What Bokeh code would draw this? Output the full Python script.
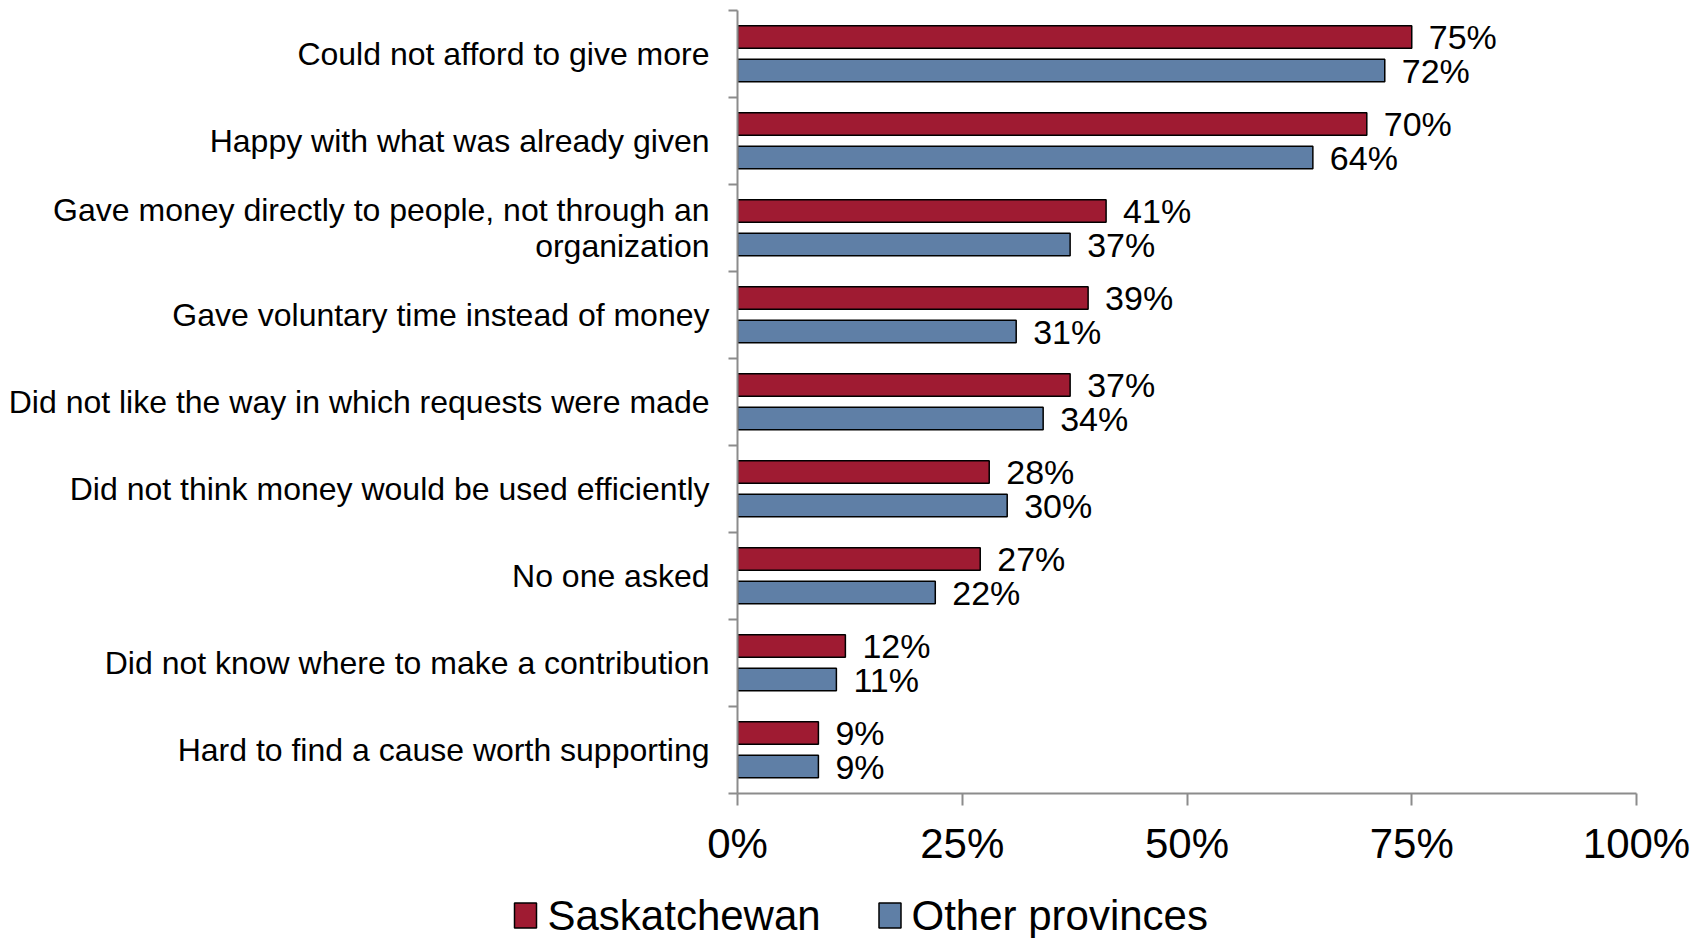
from bokeh.plotting import figure
from bokeh.layouts import column
from bokeh.models import (ColumnDataSource, Range1d, FixedTicker, NumeralTickFormatter)
from bokeh.core.properties import value
from bokeh.embed import file_html
from bokeh.resources import INLINE

categories = [
    "Could not afford to give more",
    "Happy with what was already given",
    "Gave money directly to people, not through an\norganization",
    "Gave voluntary time instead of money",
    "Did not like the way in which requests were made",
    "Did not think money would be used efficiently",
    "No one asked",
    "Did not know where to make a contribution",
    "Hard to find a cause worth supporting",
]
saskatchewan = [75, 70, 41, 39, 37, 28, 27, 12, 9]
other_provinces = [72, 64, 37, 31, 34, 30, 22, 11, 9]
series_names = ["Saskatchewan", "Other provinces"]
x_ticks = [0, 0.25, 0.5, 0.75, 1.0]

RED = "#9F1B32"
BLUE = "#5F7FA6"
FONT = "Liberation Sans"
AXIS_GRAY = "#8C8C8C"

n = len(categories)
pos = [n - 1 - i for i in range(n)]

src = ColumnDataSource(dict(
    pos=pos,
    y_s=[p_ + 0.195 for p_ in pos],
    y_o=[p_ - 0.19 for p_ in pos],
    sask=[v / 100 for v in saskatchewan],
    other=[v / 100 for v in other_provinces],
    sask_lbl=[f"{v}%" for v in saskatchewan],
    other_lbl=[f"{v}%" for v in other_provinces],
))

p = figure(width=1708, height=880, output_backend="svg", toolbar_location=None,
           x_range=Range1d(0, 1), y_range=Range1d(-0.5, n - 0.5),
           min_border_left=737, min_border_right=72, min_border_top=10,
           min_border_bottom=87)
p.frame_align = False
p.outline_line_color = None
p.xgrid.visible = False
p.ygrid.visible = False
p.background_fill_color = "white"
p.border_fill_color = "white"

p.hbar(y="y_s", right="sask", left=0, height=0.26, source=src,
       fill_color=RED, line_color="black", line_width=1.5)
p.hbar(y="y_o", right="other", left=0, height=0.26, source=src,
       fill_color=BLUE, line_color="black", line_width=1.5)

p.text(x="sask", y="y_s", text="sask_lbl", source=src, x_offset=17,
       text_align="left", text_baseline="middle", text_font=value(FONT),
       text_font_size="34px", text_color="black")
p.text(x="other", y="y_o", text="other_lbl", source=src, x_offset=17,
       text_align="left", text_baseline="middle", text_font=value(FONT),
       text_font_size="34px", text_color="black")

# x axis
xa = p.xaxis[0]
xa.ticker = FixedTicker(ticks=x_ticks)
xa.formatter = NumeralTickFormatter(format="0%")
xa.axis_line_color = AXIS_GRAY
xa.axis_line_width = 2
xa.major_tick_line_color = AXIS_GRAY
xa.major_tick_line_width = 2
xa.major_tick_out = 12
xa.major_tick_in = 0
xa.minor_tick_line_color = None
xa.major_label_text_font = FONT
xa.major_label_text_font_size = "42px"
xa.major_label_text_color = "black"
xa.major_label_standoff = 14

# y axis: category labels at centres, separators as minor ticks
ya = p.yaxis[0]
ya.ticker = FixedTicker(ticks=pos, minor_ticks=[k - 0.5 for k in range(n + 1)])
ya.major_label_overrides = {pos[i]: categories[i] for i in range(n)}
ya.axis_line_color = AXIS_GRAY
ya.axis_line_width = 2
ya.major_tick_line_color = None
ya.major_tick_out = 0
ya.major_tick_in = 0
ya.minor_tick_line_color = AXIS_GRAY
ya.minor_tick_line_width = 2
ya.minor_tick_out = 9
ya.minor_tick_in = 0
ya.major_label_text_font = FONT
ya.major_label_text_font_size = "32px"
ya.major_label_text_color = "black"
ya.major_label_text_line_height = 1.0
ya.major_label_standoff = 19

# legend strip (pixel-scaled ranges)
LW, LH = 1708, 58
pl = figure(width=LW, height=LH, output_backend="svg", toolbar_location=None,
            x_range=Range1d(0, LW), y_range=Range1d(0, LH),
            x_axis_location=None, y_axis_location=None,
            min_border_left=0, min_border_right=0, min_border_top=0,
            min_border_bottom=0)
pl.frame_align = False
pl.outline_line_color = None
pl.xgrid.visible = False
pl.ygrid.visible = False
pl.border_fill_color = "white"
pl.background_fill_color = "white"

leg_src = ColumnDataSource(dict(
    sx=[525, 889.5], tx=[547, 911], y=[23, 23],
    color=[RED, BLUE], name=series_names,
))
pl.rect(x="sx", y="y", width=22, height=25, source=leg_src,
        fill_color="color", line_color="black", line_width=1.5)
pl.text(x="tx", y="y", text="name", source=leg_src, text_align="left",
        text_baseline="middle", text_font=value(FONT), text_font_size="42px",
        text_color="black")

layout = column(p, pl, spacing=0)
open("out.html", "w").write(file_html(layout, INLINE))
